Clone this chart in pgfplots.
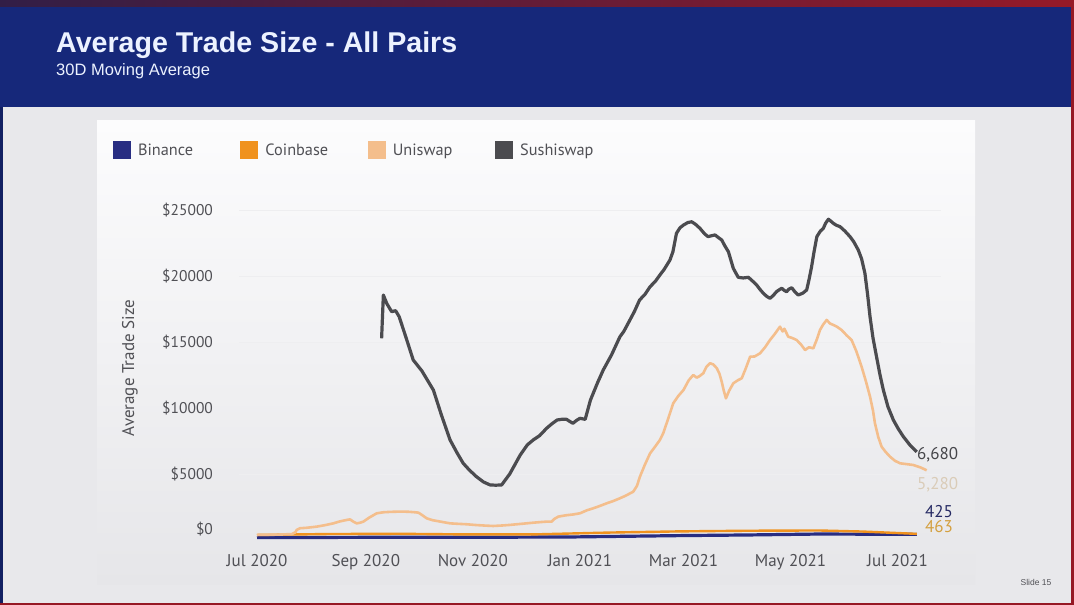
\documentclass[border=0pt]{standalone}
\usepackage{fontspec}
\setmainfont{Liberation Sans}
\newfontfamily\ptsans{PT Sans}
\usepackage{pgfplots}
\pgfplotsset{compat=1.18}

\definecolor{banner}{RGB}{22,40,122}
\definecolor{stripL}{RGB}{50,30,70}
\definecolor{stripR}{RGB}{150,26,40}
\definecolor{bggray}{RGB}{232,232,235}
\definecolor{cardtop}{RGB}{252,252,253}
\definecolor{cardbot}{RGB}{230,230,233}
\definecolor{redb}{RGB}{150,24,36}
\definecolor{binc}{RGB}{40,45,130}
\definecolor{coinc}{RGB}{240,146,30}
\definecolor{unic}{RGB}{244,190,140}
\definecolor{sushic}{RGB}{75,75,79}
\definecolor{tickc}{RGB}{80,80,85}
\definecolor{gridc}{RGB}{238,238,240}
\definecolor{lab425}{RGB}{38,42,100}
\definecolor{lab463}{RGB}{212,160,64}
\definecolor{lab5280}{RGB}{218,204,184}
\definecolor{lab6680}{RGB}{70,70,74}
\definecolor{titlec}{RGB}{236,242,255}

\begin{document}
\begin{tikzpicture}
\useasboundingbox (0pt,0pt) rectangle (1074pt,605pt);
% backgrounds
\fill[bggray] (0pt,0pt) rectangle (1074pt,605pt);
\shade[top color=cardtop, bottom color=cardbot] (97pt,20pt) rectangle (975pt,484pt);
\fill[banner] (0pt,498.3pt) rectangle (1074pt,598pt);
\shade[left color=stripL, right color=stripR] (0pt,598pt) rectangle (1074pt,605pt);
\fill[redb] (1071pt,0pt) rectangle (1074pt,598pt);
\fill[redb] (0pt,0pt) rectangle (1074pt,2pt);
\fill[banner!80!black] (0pt,2pt) rectangle (2.5pt,498.3pt);
% titles
\node[anchor=base west, inner sep=0pt, text=titlec, font=\fontsize{28.6}{32}\selectfont\bfseries] at (56pt,552.3pt) {Average Trade Size - All Pairs};
\node[anchor=base west, inner sep=0pt, text=titlec, font=\fontsize{16.5}{20}\selectfont] at (56pt,529pt) {30D Moving Average};
\node[anchor=center, inner sep=0pt, text=tickc, font=\fontsize{8.5}{10}\selectfont] at (1036pt,23pt) {Slide 15};

\begin{axis}[
  at={(239.45pt,57.1pt)}, anchor=south west,
  scale only axis, width=702pt, height=351.1pt,
  xmin=-10, xmax=390, ymin=-600, ymax=26000,
  scaled y ticks=false,
  axis line style={draw=none},
  major tick length=0pt,
  xtick={0,62,123,184,243,304,365},
  xticklabels={Jul 2020,Sep 2020,Nov 2020,Jan 2021,Mar 2021,May 2021,Jul 2021},
  ytick={5000,10000,15000,20000,25000},
  yticklabels={\$5000,\$10000,\$15000,\$20000,\$25000},
  extra y ticks={0}, extra y tick labels={\$0},
  extra y tick style={yticklabel style={yshift=11pt}, grid=none},
  ymajorgrids, major grid style={color=gridc, line width=0.6pt},
  xticklabel style={font=\fontsize{17}{20}\selectfont\ptsans, text=tickc, yshift=-3pt},
  yticklabel style={font=\fontsize{15.5}{18}\selectfont\ptsans, text=tickc, anchor=east, xshift=-23pt},
  ylabel={Average Trade Size},
  every axis y label/.style={at={(axis description cs:-0.156,0.512)}, rotate=90, anchor=center, font=\fontsize{17}{20}\selectfont\ptsans, text=tickc},
  legend columns=4,
  legend cell align=left,
  legend image code/.code={\fill[draw=none] (0pt,-9pt) rectangle (18pt,9pt);},
  legend style={draw=none, fill=none, inner sep=0pt, outer sep=0pt,
    at={(axis description cs:-0.1801,1.1333)}, anchor=west,
    font=\fontsize{16.3}{19}\selectfont\ptsans, text=tickc,
    nodes={inner xsep=7pt, inner ysep=0pt, text width=95.4pt, anchor=west, align=left}},
  line join=round,
]
\addplot[color=binc, line width=3.2pt] coordinates {
(0,180) (60,200) (120,200) (180,230) (240,330) (280,380) (320,450) (345,440) (376,425)};
\addlegendentry{Binance}
\addplot[color=coinc, line width=2.4pt] coordinates {
(0,380) (40,450) (80,470) (120,420) (160,430) (200,560) (240,650) (280,700) (320,720) (345,640) (376,463)};
\addlegendentry{Coinbase}
\addplot[color=unic, line width=2.6pt] coordinates {
(0,380) (5,390) (10,400) (15,420) (20,450) (22,600) (22.6,760) (24.5,890) (28,920) (34,1010)
(39,1130) (43.5,1260) (47,1400) (51,1515) (53,1560) (55,1380) (56.8,1260) (58.5,1300) (60.6,1390)
(64,1700) (68.2,2020) (72,2100) (76,2130) (81.5,2150) (86,2140) (90,2100) (92,2070) (94.5,1850)
(96.7,1640) (100,1500) (105,1380) (110,1260) (115,1220) (119.5,1190) (125,1130) (130,1090)
(134.6,1060) (140,1100) (144,1140) (148,1190) (152,1240) (157.4,1310) (162,1360) (165,1390)
(167.9,1390) (169.5,1600) (171.7,1770) (176,1870) (180,1930) (184,2020) (188,2250) (191.6,2400)
(195,2560) (199.3,2780) (203,2950) (206.8,3160) (210,3350) (214.4,3660) (216.5,4100) (218.2,4800)
(221,5700) (224,6570) (227,7100) (229.6,7580) (231.5,8100) (233.4,8840) (235.3,9600) (237.2,10360)
(240,10900) (243,11360) (246,12100) (248.6,12500) (250.5,12300) (252,12400) (254.3,12630)
(256,13100) (258.1,13390) (260,13300) (262,13010) (263.5,12600) (264.8,11990) (266,11300)
(267.2,10730) (269,11300) (271.4,11870) (274,12100) (276.2,12250) (278.5,13000) (281,13890)
(283.5,13900) (286.6,14140) (289.5,14600) (292.3,15150) (295,15600) (298,16160) (299.5,15800)
(300.5,16000) (302.7,15400) (305,15300) (307.5,15150) (310,14800) (312.3,14390) (314.5,14600)
(317,14520) (319,15200) (320.8,15910) (322.5,16300) (324.6,16670) (326.5,16400) (328.4,16290)
(330.5,16150) (333.1,15910) (336,15500) (338.8,15150) (341.5,14300) (344.5,13130) (347,12000)
(349.3,10860) (351,9800) (352.1,8840) (354,7800) (355.9,7070) (358,6700) (360.7,6310) (363.5,6000)
(366.4,5810) (370,5750) (374,5680) (378,5500) (381.6,5280)};
\addlegendentry{Uniswap}
\addplot[color=sushic, line width=3.2pt] coordinates {
(71,15280) (72,18560) (74,17900) (76.7,17300) (79,17370) (81,16920) (85,15300) (89,13640)
(94,12800) (100.5,11360) (105,9500) (110,7580) (114,6600) (117.5,5810) (121,5300) (125,4800)
(129,4400) (132.8,4170) (136,4150) (139.4,4170) (144,5000) (150,6440) (154,7200) (157.4,7580)
(161,7900) (165,8460) (168,8800) (171,9090) (174,9150) (176.4,9140) (178,9000) (180,8840)
(182,9050) (184,9220) (187,9140) (190,10600) (194,11900) (197.3,12880) (202,14020) (206.8,15400)
(209,15800) (212.5,16670) (215,17300) (218,18180) (221,18600) (224,19190) (227,19600)
(229.6,20080) (232,20500) (235.3,21210) (237,21840) (239,23230) (241,23650) (243,23860)
(245.5,24050) (247.7,24110) (250,23900) (252.4,23610) (255,23200) (257,22980) (259,23050)
(261,23110) (263,22900) (264.8,22730) (266.5,22300) (268.6,21840) (271.4,20580) (274.2,19900)
(277,19850) (280,19900) (282.5,19600) (284.7,19320) (286.5,19000) (288.5,18690) (290.5,18450)
(292.3,18310) (294,18500) (296,18810) (297.5,18950) (299,19070) (300.5,18900) (301.8,18810)
(303,19000) (304.7,19110) (306.5,18800) (308.4,18560) (311,18700) (313.2,18940) (314.5,19700)
(316,20700) (317.5,21900) (319,22980) (321,23400) (322.7,23610) (324,24000) (325.6,24300)
(327,24150) (328.4,23990) (330,23850) (332.2,23740) (335,23400) (337.9,22980) (340,22600)
(342.6,21970) (344.5,21300) (346.4,20200) (348,18500) (349.3,16920) (351,15300) (353,13890)
(355,12500) (356.9,11360) (359.5,10100) (362.6,9090) (365.5,8400) (368.3,7830) (372,7200)
(375.9,6680)};
\addlegendentry{Sushiswap}
\end{axis}
% end-of-series value labels
\node[anchor=west, inner sep=0pt, text=lab6680, font=\fontsize{17}{20}\selectfont\ptsans] at (917pt,150pt) {6,680};
\node[anchor=west, inner sep=0pt, text=lab5280, font=\fontsize{17}{20}\selectfont\ptsans] at (917pt,120pt) {5,280};
\node[anchor=west, inner sep=0pt, text=lab425, font=\fontsize{17}{20}\selectfont\ptsans] at (925pt,93pt) {425};
\node[anchor=west, inner sep=0pt, text=lab463, font=\fontsize{17}{20}\selectfont\ptsans] at (925pt,78pt) {463};
\end{tikzpicture}
\end{document}
